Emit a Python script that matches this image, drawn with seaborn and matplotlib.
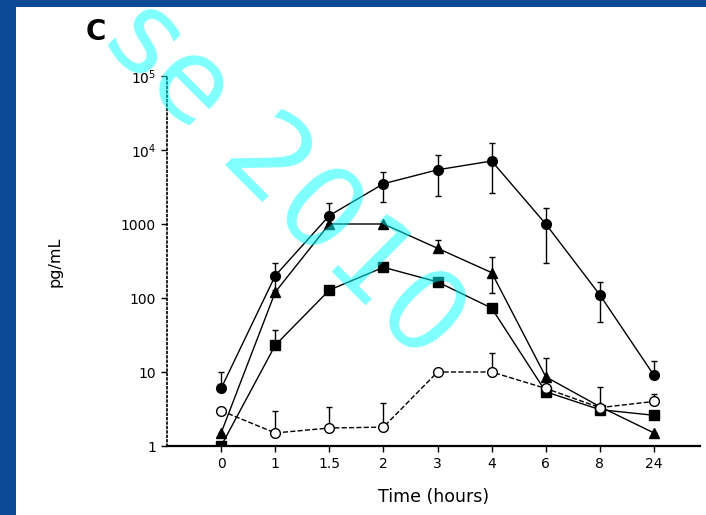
import numpy as np
import pandas as pd
import seaborn as sns
import matplotlib.pyplot as plt
from matplotlib.patches import Rectangle

# time points (categorical axis)
times = ["0", "1", "1.5", "2", "3", "4", "6", "8", "24"]

# filled circles
circ = [6, 200, 1300, 3500, 5400, 7100, 1000, 110, 9]
circ_hi = [10, 300, 1900, 5000, 8500, 12500, 1650, 165, 14]
circ_lo = [6, 130, 1000, 2000, 2400, 2600, 300, 47, 9]

# filled triangles
tri = [1.5, 120, 1000, 1000, 470, 220, 8.6, 3.4, 1.5]
tri_hi = [1.5, 120, 1300, 1000, 600, 360, 15.5, 3.4, 1.5]
tri_lo = [1.5, 120, 1000, 1000, 470, 117, 8.6, 3.4, 1.5]

# filled squares
sq = [1, 23, 128, 260, 165, 73, 5.4, 3.1, 2.6]
sq_hi = [1, 37, 128, 260, 165, 73, 5.4, 6.3, 2.6]
sq_lo = [1, 23, 128, 260, 165, 73, 5.4, 3.1, 2.6]

# open circles (dashed)
opn = [3, 1.5, 1.75, 1.8, 10, 10, 6, 3.3, 4]
opn_hi = [3, 3.0, 3.4, 3.8, 10, 18, 6, 3.3, 5]
opn_lo = [3, 1.5, 1.75, 1.8, 10, 10, 6, 3.3, 4]

ytick_vals = [1, 10, 100, 1000, 1e4, 1e5]
ytick_labels = ["1", "10", "100", "1000", "10$^4$", "10$^5$"]

sns.set_style("white")
plt.rcParams['font.family'] = ['DejaVu Sans']
plt.rcParams['mathtext.default'] = 'regular'
plt.rcParams['text.color'] = 'black'
plt.rcParams['axes.labelcolor'] = 'black'
plt.rcParams['xtick.color'] = 'black'
plt.rcParams['ytick.color'] = 'black'

fig = plt.figure(figsize=(7.06, 5.15), dpi=100, facecolor='#0b4a96')
# white slide panel
fig.patches.append(Rectangle((16 / 706, 0), 1, (515 - 7) / 515, transform=fig.transFigure,
                             facecolor='white', edgecolor='none', zorder=-5))

ax = fig.add_axes([167 / 706, (515 - 446) / 515, (700 - 167) / 706, (446 - 76) / 515])
ax.set_facecolor('none')
ax.set_zorder(1)

pos = np.arange(len(times))
series = [
    (circ, circ_hi, circ_lo, 'o', 'black', '-'),
    (tri, tri_hi, tri_lo, '^', 'black', '-'),
    (sq, sq_hi, sq_lo, 's', 'black', '-'),
    (opn, opn_hi, opn_lo, 'o', 'white', '--'),
]
for vals, hi, lo, mk, fc, ls in series:
    df = pd.DataFrame({'t': pos, 'v': vals})
    sns.lineplot(data=df, x='t', y='v', ax=ax, color='black', lw=1.0, linestyle=ls,
                 marker=mk, markersize=7, markerfacecolor=fc, markeredgecolor='black',
                 markeredgewidth=1.0, zorder=3)
    v = np.array(vals, dtype=float)
    yerr = np.vstack([v - np.array(lo), np.array(hi) - v])
    ax.errorbar(pos, v, yerr=yerr, fmt='none', ecolor='black', elinewidth=1.0,
                capsize=2.5, capthick=1.0, zorder=2)

ax.set_yscale('log')
ax.set_ylim(1, 1e5)
ax.set_xlim(-1.0, 8.85)
ax.set_yticks(ytick_vals)
ax.set_yticklabels(ytick_labels)
ax.minorticks_off()
ax.set_xticks(pos)
ax.set_xticklabels(times)
ax.tick_params(axis='both', labelsize=10, length=4, width=1, color='black', direction='out',
               left=True, bottom=True, labelcolor='black')
ax.tick_params(axis='y', pad=4)
ax.tick_params(axis='x', pad=4)

for s in ['top', 'right']:
    ax.spines[s].set_visible(False)
ax.spines['left'].set_linestyle(':')
ax.spines['left'].set_linewidth(1.2)
ax.spines['left'].set_color('black')
ax.spines['bottom'].set_linewidth(1.6)
ax.spines['bottom'].set_color('black')

ax.set_xlabel('Time (hours)', fontsize=12.5, labelpad=12, color='black')
ax.set_ylabel('pg/mL', fontsize=11.5, labelpad=0, color='black')
ax.yaxis.set_label_coords(-(167 - 62) / (700 - 167), (446 - 262) / (446 - 76))

fig.text(96 / 706, 1 - 32 / 515, 'C', fontsize=20, fontweight='bold', ha='center', va='center',
         color='black')

# watermark
fig.text(285 / 706, 1 - 180 / 515, 'se 2010', fontsize=82, color='cyan', alpha=0.5,
         ha='center', va='center', rotation=-45, rotation_mode='anchor', zorder=10)

fig.savefig('out.png', dpi=100, facecolor=fig.get_facecolor())
